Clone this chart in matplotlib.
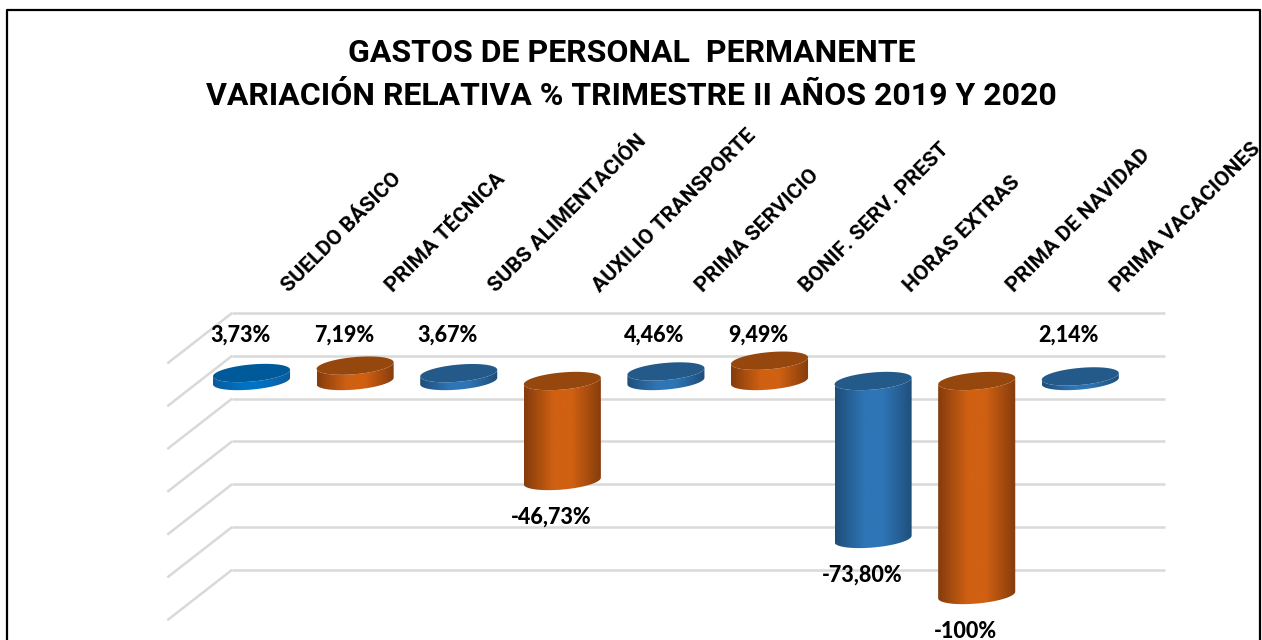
import numpy as np
import matplotlib
matplotlib.use("Agg")
import matplotlib.pyplot as plt
from matplotlib.colors import LinearSegmentedColormap
from matplotlib.lines import Line2D
from matplotlib.patches import Polygon

# data
categories = ["SUELDO BÁSICO", "PRIMA TÉCNICA", "SUBS ALIMENTACIÓN", "AUXILIO TRANSPORTE",
              "PRIMA SERVICIO", "BONIF. SERV. PREST", "HORAS EXTRAS", "PRIMA DE NAVIDAD",
              "PRIMA VACACIONES"]
values = [3.73, 7.19, 3.67, -46.73, 4.46, 9.49, -73.80, -100, 2.14]
value_labels = ["3,73%", "7,19%", "3,67%", "-46,73%", "4,46%", "9,49%", "-73,80%", "-100%", "2,14%"]
grid_values = [20, 0, -20, -40, -60, -80, -100]
title = "GASTOS DE PERSONAL  PERMANENTE\nVARIACIÓN RELATIVA % TRIMESTRE II AÑOS 2019 Y 2020"

# colours: side edge, side middle, top cap
bright_blue = ("#0a5c9c", "#0072c4", "#005a9a")
blue = ("#1f4e79", "#2e75b6", "#245a8a")
orange = ("#843c0c", "#d06012", "#96470e")
bar_colors = [bright_blue, orange, blue, orange, blue, orange, blue, orange, blue]

# 3d look, in data units
depth_x = 0.313
depth_y = 11.8
half_w = 0.372
cap_h = 4.0
cap_tilt = 1.54

fig = plt.figure(figsize=(12.62, 6.4), dpi=100)
ax = fig.add_axes([0, 0, 1, 1])
ax.axis("off")

# grid on the back wall and the side wall
for v in grid_values:
    ax.plot([-0.5 + depth_x, 8.5 + depth_x], [v + depth_y, v + depth_y],
            color="#d9d9d9", lw=1.8, solid_capstyle="butt", zorder=1)
    ax.plot([-0.5 + depth_x, -0.5 - depth_x], [v + depth_y, v - depth_y],
            color="#d9d9d9", lw=1.8, solid_capstyle="butt", zorder=1)


def ellipse(x, y, t):
    return x + half_w * np.cos(t), y + cap_h * np.sin(t) + cap_tilt * np.cos(t)


# cylinders
for i, (v, c) in enumerate(zip(values, bar_colors)):
    top = max(v, 0)
    bottom = min(v, 0)
    t_front = np.linspace(np.pi, 2 * np.pi, 60)
    xb, yb = ellipse(i, bottom, t_front)
    xt, yt = ellipse(i, top, t_front[::-1])
    side = np.column_stack([np.r_[xb, xt], np.r_[yb, yt]])

    cmap = LinearSegmentedColormap.from_list(
        "side", [(0, c[0]), (0.38, c[1]), (0.62, c[1]), (1, c[0])])
    im = ax.imshow(np.linspace(0, 1, 128).reshape(1, -1), cmap=cmap, aspect="auto",
                   extent=[i - half_w, i + half_w, bottom - 8, top + 8], zorder=2)
    clip = Polygon(side, closed=True, transform=ax.transData, fc="none", ec="none")
    ax.add_patch(clip)
    im.set_clip_path(clip)

    t_all = np.linspace(0, 2 * np.pi, 120)
    xc, yc = ellipse(i, top, t_all)
    ax.fill(xc, yc, color=c[2], lw=0, zorder=3)

# value labels
for i, (v, s) in enumerate(zip(values, value_labels)):
    y = 21.5 if v > 0 else v - 17
    ax.text(i - 0.11, y, s, ha="center", va="center", fontsize=15.5,
            fontweight=900, family="Lato", color="black", zorder=4)

# category labels
for i, name in enumerate(categories):
    ax.text(i + 0.39, 40, name, rotation=45, rotation_mode="anchor", ha="left", va="bottom",
            fontsize=15.3, fontweight="bold", family="Roboto", color="black")

ax.text(3.67, 143.3, title, ha="center", va="center", fontsize=23, fontweight="bold",
        family="Roboto", color="black", linespacing=1.56)

ax.set_xlim(-2.428, 9.754)
ax.set_ylim(-121.03, 178.04)

# frame of the picture, open at the bottom
fig.add_artist(Line2D([6.5 / 1262, 6.5 / 1262, 1260 / 1262, 1260 / 1262],
                      [0, 1 - 10 / 640, 1 - 10 / 640, 0], color="black", lw=1.6))

fig.savefig("out.png", dpi=100)
